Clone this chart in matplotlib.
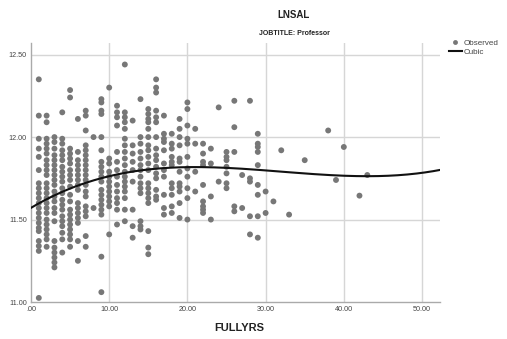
import numpy as np
import matplotlib
matplotlib.use("Agg")
import matplotlib.pyplot as plt
from matplotlib.lines import Line2D

plt.rcParams['font.family'] = ['Liberation Sans', 'DejaVu Sans']

years = [1, 2, 3, 4, 5, 6, 7, 8, 9, 10, 11, 12, 13, 14, 15, 16, 17, 18, 19, 20,
         21, 22, 23, 24, 25, 26, 27, 28, 29, 30, 31, 32, 33, 35, 38, 39, 40, 42, 43]
lnsal_by_year = [
    [12.35, 12.13, 11.99, 11.93, 11.88, 11.80, 11.72, 11.69, 11.66, 11.63, 11.60,
     11.57, 11.54, 11.51, 11.48, 11.45, 11.43, 11.37, 11.34, 11.31, 11.025],
    [12.13, 12.09, 11.99, 11.96, 11.93, 11.90, 11.86, 11.83, 11.80, 11.77, 11.72,
     11.69, 11.66, 11.63, 11.60, 11.57, 11.54, 11.50, 11.47, 11.44, 11.41, 11.38, 11.335],
    [12.00, 11.97, 11.93, 11.89, 11.86, 11.83, 11.80, 11.77, 11.74, 11.71, 11.67,
     11.64, 11.61, 11.57, 11.54, 11.49, 11.37, 11.33, 11.30, 11.27, 11.24, 11.21],
    [12.15, 11.99, 11.96, 11.92, 11.89, 11.86, 11.82, 11.79, 11.76, 11.73, 11.69,
     11.66, 11.62, 11.59, 11.56, 11.52, 11.49, 11.46, 11.42, 11.38, 11.30],
    [12.285, 12.24, 11.93, 11.90, 11.87, 11.84, 11.80, 11.77, 11.74, 11.70, 11.65,
     11.61, 11.56, 11.53, 11.50, 11.47, 11.44, 11.41, 11.38, 11.335],
    [12.11, 11.91, 11.86, 11.83, 11.80, 11.77, 11.74, 11.71, 11.68, 11.60, 11.57,
     11.54, 11.51, 11.48, 11.37, 11.25],
    [12.16, 12.13, 12.04, 11.95, 11.92, 11.89, 11.86, 11.83, 11.80, 11.77, 11.74,
     11.71, 11.67, 11.64, 11.58, 11.55, 11.52, 11.40, 11.335],
    [12.00, 11.57],
    [12.23, 12.21, 12.16, 12.14, 12.00, 11.92, 11.85, 11.82, 11.79, 11.76, 11.73,
     11.68, 11.65, 11.62, 11.59, 11.56, 11.53, 11.275, 11.06],
    [12.30, 11.87, 11.84, 11.79, 11.76, 11.73, 11.70, 11.67, 11.64, 11.61, 11.58, 11.41],
    [12.19, 12.15, 12.12, 12.07, 11.91, 11.85, 11.80, 11.76, 11.71, 11.67, 11.63,
     11.60, 11.56, 11.47],
    [12.44, 12.15, 12.12, 12.09, 12.05, 11.99, 11.95, 11.91, 11.87, 11.83, 11.79,
     11.76, 11.73, 11.70, 11.67, 11.63, 11.56, 11.49],
    [12.10, 11.95, 11.90, 11.85, 11.80, 11.73, 11.56, 11.46, 11.39],
    [12.23, 12.00, 11.96, 11.91, 11.87, 11.83, 11.80, 11.76, 11.72, 11.69, 11.66,
     11.49, 11.46, 11.44],
    [12.17, 12.14, 12.11, 12.09, 12.05, 12.00, 11.95, 11.92, 11.88, 11.84, 11.80,
     11.72, 11.69, 11.66, 11.63, 11.60, 11.43, 11.33, 11.29],
    [12.35, 12.30, 12.27, 12.16, 12.12, 12.09, 12.00, 11.93, 11.89, 11.86, 11.82,
     11.78, 11.75, 11.68, 11.64, 11.62],
    [12.13, 12.02, 11.99, 11.97, 11.92, 11.84, 11.80, 11.76, 11.65, 11.57, 11.53],
    [12.02, 11.96, 11.93, 11.88, 11.85, 11.83, 11.72, 11.69, 11.65, 11.58, 11.54],
    [12.11, 12.05, 12.00, 11.95, 11.87, 11.85, 11.79, 11.72, 11.70, 11.67, 11.60, 11.51],
    [12.21, 12.17, 12.07, 11.99, 11.96, 11.88, 11.81, 11.76, 11.69, 11.63, 11.50],
    [12.05, 11.96, 11.79, 11.67],
    [11.96, 11.90, 11.85, 11.83, 11.71, 11.61, 11.58, 11.56, 11.54],
    [11.93, 11.84, 11.64, 11.50],
    [12.18, 11.73],
    [11.91, 11.88, 11.86, 11.82, 11.78, 11.72, 11.69],
    [12.22, 12.06, 11.91, 11.58, 11.55],
    [11.77, 11.57],
    [12.22, 11.75, 11.73, 11.52, 11.41],
    [12.02, 11.96, 11.94, 11.91, 11.83, 11.71, 11.65, 11.52, 11.39],
    [11.67, 11.54],
    [11.61],
    [11.92],
    [11.53],
    [11.86],
    [12.04],
    [11.74],
    [11.94],
    [11.645],
    [11.77],
]

# cubic fit coefficients (b0 + b1*x + b2*x^2 + b3*x^3)
cubic_coef = [11.571, 0.02812, -0.0009965, 1.038e-5]

x_obs = np.concatenate([[yr] * len(v) for yr, v in zip(years, lnsal_by_year)])
y_obs = np.concatenate(lnsal_by_year)

fig = plt.figure(figsize=(5.07, 3.39), dpi=100)
ax = fig.add_axes([0.0611, 0.109, 0.8068, 0.764])

grid_col = '#d6d6d6'
for v in [10, 20, 30, 40, 50]:
    ax.axvline(v, color=grid_col, lw=1.0, zorder=0)
for v in [11.5, 12.0, 12.5]:
    ax.axhline(v, color=grid_col, lw=1.0, zorder=0)

ax.scatter(x_obs, y_obs, s=18, color='#777777', edgecolors='none', zorder=2)

xs = np.linspace(0, 52.3, 300)
ys = np.polyval(cubic_coef[::-1], xs)
ax.plot(xs, ys, color='#111111', lw=1.5, zorder=3)

ax.set_xlim(0, 52.3)
ax.set_ylim(11.0, 12.57)
ax.set_xticks([0, 10, 20, 30, 40, 50])
ax.set_xticklabels(['.00', '10.00', '20.00', '30.00', '40.00', '50.00'])
ax.set_yticks([11.0, 11.5, 12.0, 12.5])
ax.set_yticklabels(['11.00', '11.50', '12.00', '12.50'])
ax.tick_params(length=0, labelsize=5.2, labelcolor='#444444', pad=3)

for s in ['top', 'right']:
    ax.spines[s].set_visible(False)
for s in ['left', 'bottom']:
    ax.spines[s].set_color('#aaaaaa')
    ax.spines[s].set_linewidth(1.0)

fig.text(0.578, 0.955, 'LNSAL', ha='center', va='center', fontsize=7, fontweight='bold', color='#222222')
fig.text(0.580, 0.90, 'JOBTITLE: Professor', ha='center', va='center', fontsize=5, fontweight='bold', color='#222222')
fig.text(0.472, 0.033, 'FULLYRS', ha='center', va='center', fontsize=8, fontweight='bold', color='#222222')

handles = [
    Line2D([], [], marker='o', ls='none', color='#777777', markersize=3.5, markeredgewidth=0),
    Line2D([], [], color='#111111', lw=1.5),
]
fig.legend(handles, ['Observed', 'Cubic'], loc='upper left', bbox_to_anchor=(0.885, 0.885),
           frameon=False, fontsize=5.8, handlelength=1.6, handletextpad=0.3,
           labelspacing=0.25, borderaxespad=0, borderpad=0, labelcolor='#444444')

fig.savefig('out.png', dpi=100)
